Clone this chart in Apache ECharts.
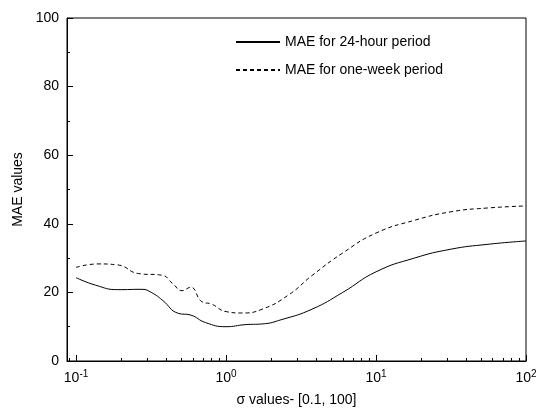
<!DOCTYPE html>
<html><head><meta charset="utf-8">
<script src="https://cdn.jsdelivr.net/npm/echarts@6/dist/echarts.min.js"></script>
<style>html,body{margin:0;padding:0;background:#fff}#main{width:545px;height:420px}</style>
</head><body><div id="main"></div>
<script>
const sigma24 = [0.1, 0.135, 0.19, 0.275, 0.32, 0.375, 0.48, 0.58, 0.73, 1.0, 1.34, 1.74, 2.36, 3.74, 6, 10, 18, 31.6, 55, 100];
const mae24 = [24.3, 22.1, 20.8, 20.9, 19.9, 17.8, 13.9, 13.4, 11.2, 10.0, 10.6, 10.8, 12.1, 15.1, 20, 26, 30, 32.6, 34, 35];
const sigmaWeek = [0.1, 0.14, 0.19, 0.26, 0.375, 0.44, 0.51, 0.58, 0.69, 0.8, 1.0, 1.27, 1.74, 2.6, 3.74, 6, 10, 18, 31.6, 55, 100];
const maeWeek = [27.3, 28.3, 28.0, 25.5, 25.0, 22.6, 20.5, 21.5, 17.3, 16.6, 14.4, 14.0, 15.1, 19.2, 24.9, 31.5, 37.3, 41, 43.5, 44.6, 45.2];
const seriesNames = ['MAE for 24-hour period', 'MAE for one-week period'];

const chart = echarts.init(document.getElementById('main'));
const font = 'Liberation Sans, Arial, sans-serif';
const pair = (xs, ys) => xs.map((x, i) => [x, ys[i]]);

chart.setOption({
    animation: false,
    textStyle: { fontFamily: font },
    grid: { left: 67, right: 19, top: 18, bottom: 59, show: true, borderColor: '#000', borderWidth: 1 },
    legend: {
        left: 230, top: 30, orient: 'vertical', itemGap: 14, itemWidth: 44, itemHeight: 10,
        itemStyle: { opacity: 0 },
        textStyle: { fontSize: 14, color: '#000', fontFamily: font },
        data: seriesNames
    },
    xAxis: {
        type: 'log', logBase: 10, min: 0.087, max: 100,
        name: 'σ values- [0.1, 100]', nameLocation: 'middle', nameGap: 32,
        nameTextStyle: { fontSize: 14, color: '#000' },
        axisLine: { lineStyle: { color: '#000' } },
        axisTick: { inside: true, length: 6, lineStyle: { color: '#000' } },
        minorTick: { show: true, splitNumber: 9, length: 3, lineStyle: { color: '#000' } },
        splitLine: { show: false },
        axisLabel: {
            color: '#000', fontSize: 14, margin: 8,
            formatter: v => '10{s|' + Math.round(Math.log10(v)) + '}',
            rich: { s: { fontSize: 10, verticalAlign: 'top', padding: [0, 0, 8, 0] } }
        }
    },
    yAxis: {
        type: 'value', min: 0, max: 100, interval: 20,
        name: 'MAE values', nameLocation: 'middle', nameGap: 38,
        nameTextStyle: { fontSize: 14, color: '#000' },
        axisLine: { lineStyle: { color: '#000' } },
        axisTick: { inside: true, length: 6, lineStyle: { color: '#000' } },
        minorTick: { show: true, splitNumber: 2, length: 3, lineStyle: { color: '#000' } },
        splitLine: { show: false },
        axisLabel: { color: '#000', fontSize: 14 }
    },
    series: [
        { name: seriesNames[0], type: 'line', smooth: true, symbol: 'none',
          lineStyle: { color: '#000', width: 1 }, itemStyle: { color: '#000' },
          data: pair(sigma24, mae24) },
        { name: seriesNames[1], type: 'line', smooth: true, symbol: 'none',
          lineStyle: { color: '#000', width: 1, type: [4, 3] }, itemStyle: { color: '#000' },
          data: pair(sigmaWeek, maeWeek) }
    ]
});
</script></body></html>
